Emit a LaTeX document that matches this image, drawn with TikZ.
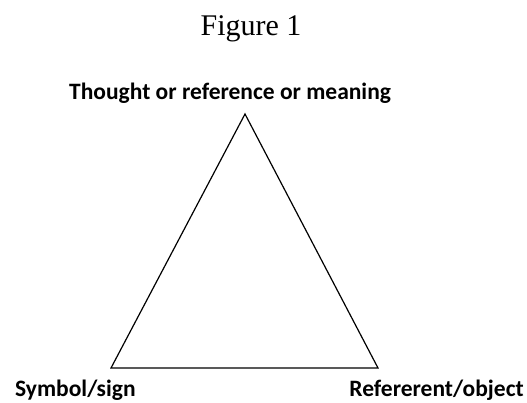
\documentclass[tikz,border=0pt]{standalone}
\usepackage{fontspec}
\setmainfont{Liberation Serif}
\newfontfamily\labelfont{Carlito}
\begin{document}
\begin{tikzpicture}[x=1pt,y=-1pt,
  corner/.style={font=\labelfont\bfseries\fontsize{23.5}{26}\selectfont, inner sep=0pt}]
  \useasboundingbox (0,0) rectangle (527,402);
  \coordinate (T) at (245,114);
  \coordinate (L) at (111,368);
  \coordinate (R) at (378,368);
  \node[inner sep=0pt, anchor=base, font=\fontsize{30}{34}\selectfont] (title) at (251,35) {Figure 1};
  \draw[line width=1.2pt, line join=miter] (T) -- (L) -- (R) -- cycle;
  \node[corner, anchor=base west] (thought) at (69,99) {Thought or reference or meaning};
  \node[corner, anchor=base west] (symbol) at (15,396) {Symbol/sign};
  \node[corner, anchor=base east] (referent) at (524,396) {Refererent/object};
\end{tikzpicture}
\end{document}
